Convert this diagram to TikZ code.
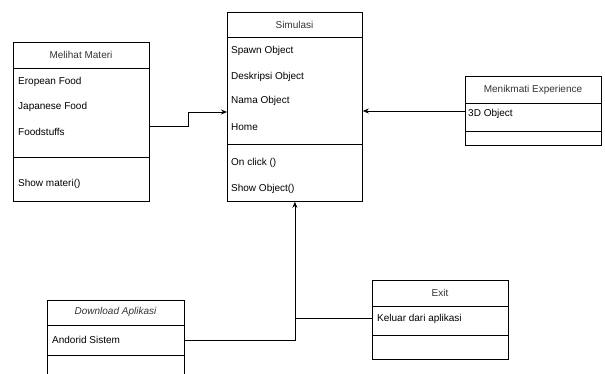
\documentclass[tikz,border=0pt]{standalone}
\usepackage{fontspec}
\setmainfont{Liberation Sans}
\usetikzlibrary{arrows.meta,positioning}

\tikzset{
	classbox/.style={draw, line width=0.8pt, inner sep=0pt, anchor=north west},
	attr/.style={anchor=west, inner sep=0pt, font=\fontsize{10}{12}\selectfont},
	title/.style={inner sep=0pt, font=\fontsize{10}{12}\selectfont, text=black!80},
	divider/.style={line width=0.8pt},
	link/.style={line width=0.8pt},
	arrowlink/.style={line width=0.8pt, -{Stealth[length=6pt,width=5pt]}}
}

\begin{document}
\begin{tikzpicture}[x=1pt, y=-1pt]
	
	\clip (0,0) rectangle (605,374);
	
	\node[classbox, minimum width=136pt, minimum height=159pt] (materi) at (13,42) {};
	\node[title] (materih) at (81,55) {Melihat Materi};
	\draw[divider] (materi.west |- 0,68) -- (materi.east |- 0,68);
	\draw[divider] (materi.west |- 0,157) -- (materi.east |- 0,157);
	\node[attr] (materi1) at (18,82) {Eropean Food};
	\node[attr] (materi2) at (18,107) {Japanese Food};
	\node[attr] (materi3) at (18,132) {Foodstuffs};
	\node[attr] (materi4) at (18,184) {Show materi()};
	
	\node[classbox, minimum width=135pt, minimum height=189pt] (sim) at (227,12) {};
	\node[title] (simh) at (294.5,25) {Simulasi};
	\draw[divider] (sim.west |- 0,37) -- (sim.east |- 0,37);
	\draw[divider] (sim.west |- 0,144) -- (sim.east |- 0,144);
	\node[attr] (sim1) at (231,51) {Spawn Object};
	\node[attr] (sim2) at (231,77) {Deskripsi Object};
	\node[attr] (sim3) at (231,101) {Nama Object};
	\node[attr] (sim4) at (231,127) {Home};
	\node[attr] (sim5) at (231,163) {On click ()};
	\node[attr] (sim6) at (231,189) {Show Object()};
	
	\node[classbox, minimum width=136pt, minimum height=69pt] (exp) at (465,76) {};
	\node[title] (exph) at (533,90) {Menikmati Experience};
	\draw[divider] (exp.west |- 0,103) -- (exp.east |- 0,103);
	\draw[divider] (exp.west |- 0,131) -- (exp.east |- 0,131);
	\node[attr] (exp1) at (468,114) {3D Object};
	
	\node[classbox, minimum width=137pt, minimum height=90pt] (dl) at (47,300) {};
	\node[title, font=\fontsize{10}{12}\selectfont\itshape] (dlh) at (115.5,312) {Download Aplikasi};
	\draw[divider] (dl.west |- 0,325) -- (dl.east |- 0,325);
	\draw[divider] (dl.west |- 0,355) -- (dl.east |- 0,355);
	\node[attr] (dl1) at (52,340) {Andorid Sistem};
	
	\node[classbox, minimum width=136pt, minimum height=79pt] (exit) at (372,280) {};
	\node[title] (exith) at (440,293) {Exit};
	\draw[divider] (exit.west |- 0,306) -- (exit.east |- 0,306);
	\draw[divider] (exit.west |- 0,335) -- (exit.east |- 0,335);
	\node[attr] (exit1) at (377,319) {Keluar dari aplikasi};
	
	\draw[arrowlink] (materi.east |- 0,126) -- ++(39,0) |- (sim.west |- 0,112);
	\draw[arrowlink] (exp.west |- 0,111) -- (sim.east |- 0,111);
	\draw[arrowlink] (dl.east |- 0,340) -| (sim.south);
	\draw[link] (exit.west |- 0,318) -- (sim.south |- 0,318);
	
\end{tikzpicture}
\end{document}
